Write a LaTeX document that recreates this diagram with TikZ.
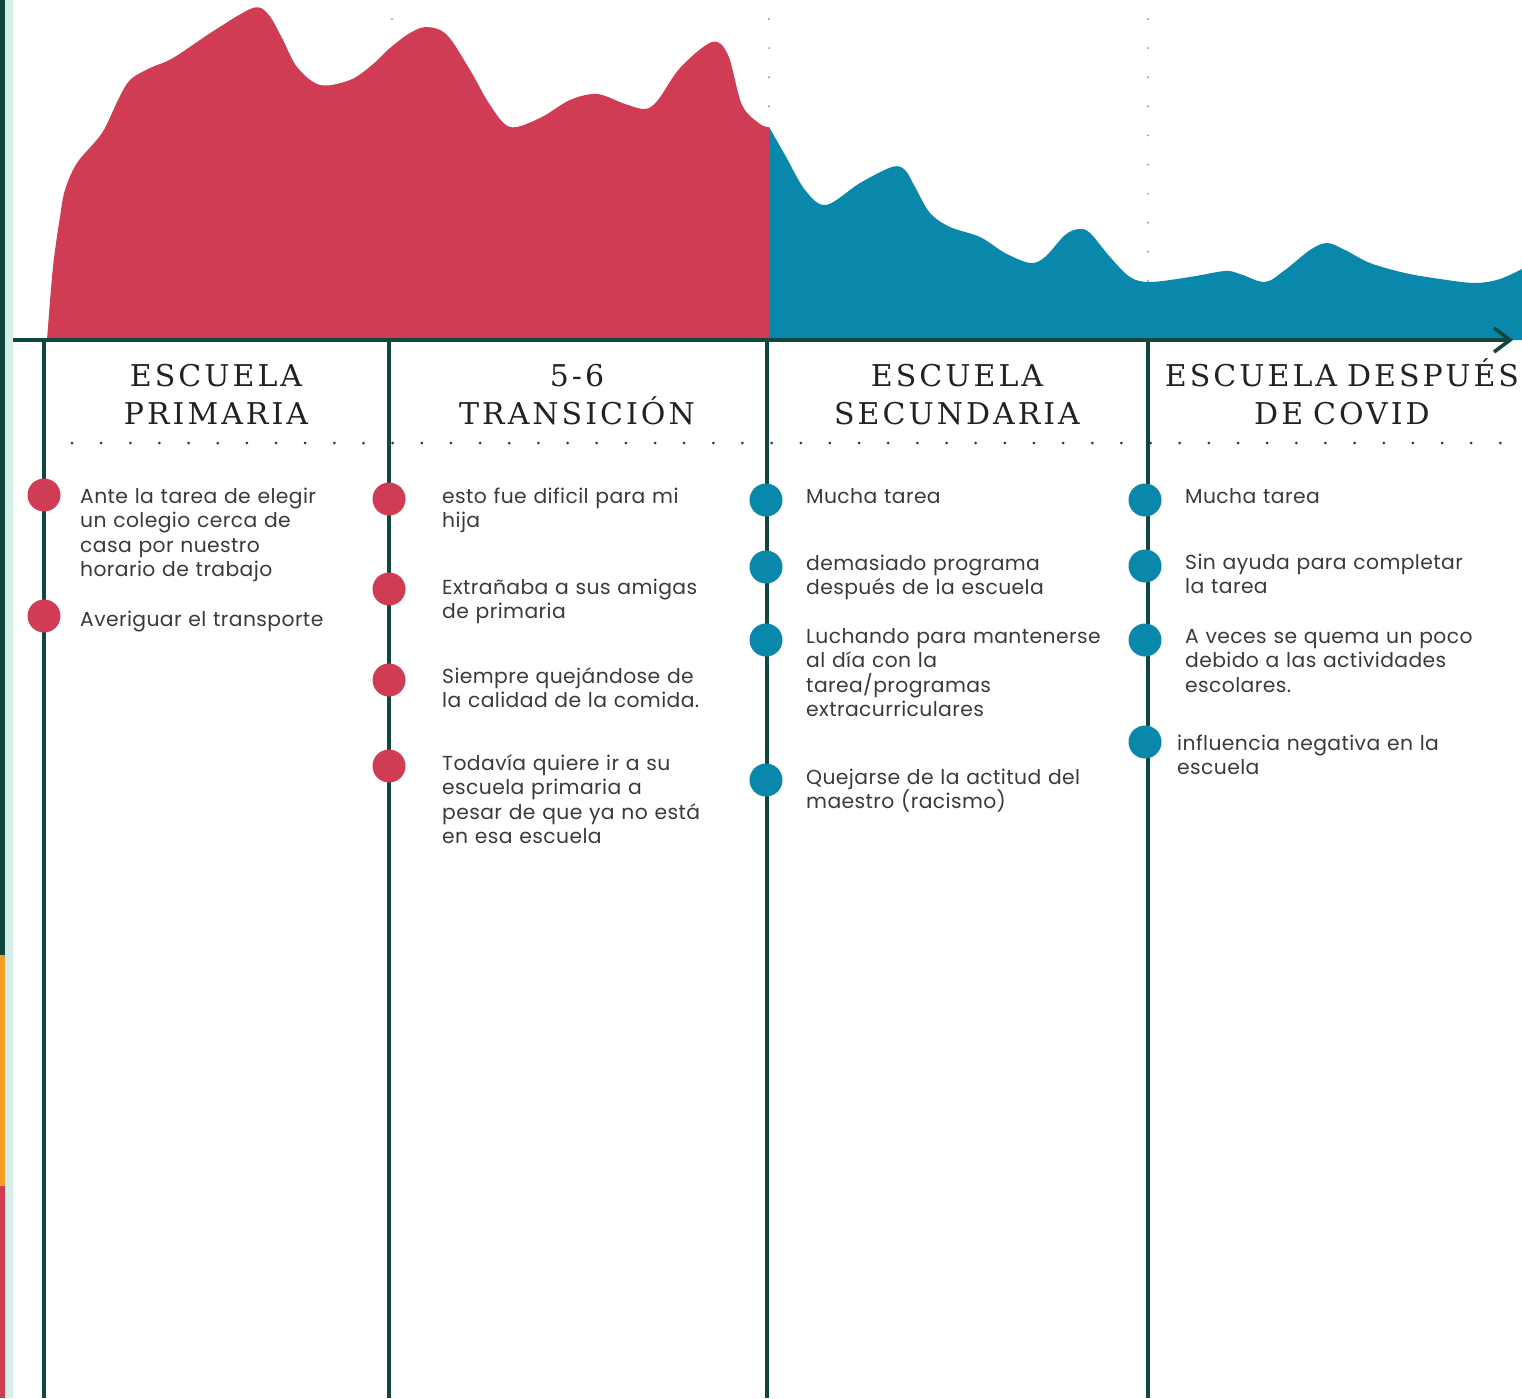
\documentclass[tikz,border=0pt]{standalone}
\usepackage{fontspec}
\setmainfont{Poppins}[LetterSpace=2]
\newfontfamily\headfont[LetterSpace=10]{DejaVu Serif}
\definecolor{accred}{HTML}{D13C55}
\definecolor{accblue}{HTML}{0A88AB}
\definecolor{linecol}{HTML}{10473F}
\definecolor{mint}{HTML}{D6EEE9}
\definecolor{stripor}{HTML}{F59E27}
\definecolor{txtgrey}{HTML}{3A3A3A}
\definecolor{headcol}{HTML}{222222}
\definecolor{gdotcol}{HTML}{9A9A9A}
\tikzset{
  axisline/.style={draw=linecol, line width=3.6pt},
  evtred/.style={circle, fill=accred, minimum size=33pt, inner sep=0pt},
  evtblue/.style={circle, fill=accblue, minimum size=33pt, inner sep=0pt},
  itemtext/.style={anchor=base west, inner sep=0pt, text width=380pt, align=left,
    font=\fontsize{20.3}{24.5}\selectfont, text=txtgrey},
  headtext/.style={anchor=base, inner sep=0pt, text width=400pt, align=center,
    font=\headfont\fontsize{30}{38}\selectfont, text=headcol}
}
\begin{document}
\begin{tikzpicture}[x=1pt,y=-1pt]
\useasboundingbox (0,0) rectangle (1522,1398);
% left strip
\fill[linecol] (0,0) rectangle (5,955);
\fill[stripor] (0,955) rectangle (5,1186);
\fill[accred] (0,1186) rectangle (5,1398);
\fill[mint] (5,0) rectangle (13,1398);
% grey guide dots
\foreach \x in {392,769,1148} {
  \foreach \j in {0,...,9} { \fill[gdotcol] (\x,19+29.1*\j) circle (1.1); }
}
% red area
\fill[accred] plot[smooth, tension=0.55] coordinates {
 (47,340) (53,267) (60,217) (65,190) (77,163) (102,133) (118,100) (130,80) (150,68)
 (173,58) (215,30) (253,8) (268,14) (282,38) (297,67) (320,85) (350,80) (372,65)
 (390,48) (410,33) (427,27) (447,35) (470,70) (490,105) (510,127) (540,118) (570,100)
 (597,94) (625,104) (645,109) (658,100) (680,68) (712,42) (728,55) (742,105) (760,124) (769,127)}
 -- (769,340) -- cycle;
% blue area
\fill[accblue] plot[smooth, tension=0.55] coordinates {
 (769,127) (785,155) (805,190) (826,205) (860,183) (892,167) (905,170) (915,187) (930,213)
 (950,227) (980,237) (1005,253) (1030,263) (1045,257) (1065,235) (1079,229) (1090,233)
 (1110,257) (1130,277) (1150,282) (1190,277) (1225,271) (1240,274) (1265,282) (1285,270)
 (1310,250) (1327,243) (1345,250) (1370,263) (1405,273) (1440,279) (1475,283) (1500,279) (1524,268)}
 -- (1524,340) -- (769,340) -- cycle;
% axis
\coordinate (a0) at (13,340);
\coordinate (a1) at (1510,340);
\draw[axisline] (a0) -- (a1);
\draw[axisline, line join=miter] (1494,328) -- (a1) -- (1494,352);
% vertical lines
\foreach \n/\x in {1/44,2/389,3/767,4/1148} {
  \coordinate (t\n) at (\x,340);
  \coordinate (b\n) at (\x,1398);
  \draw[axisline, line width=3.4pt] (t\n) -- (b\n);
}
% dotted separator
\foreach \i in {0,...,49} { \fill[linecol] (72+29.15*\i,443) circle (1.5); }
% headings
\node[headtext] (h1) at (216,386) {ESCUELA\\PRIMARIA};
\node[headtext] (h2) at (577,386) {5-6\\TRANSICIÓN};
\node[headtext] (h3) at (957,386) {ESCUELA\\SECUNDARIA};
\node[headtext] (h4) at (1342,386) {ESCUELA DESPUÉS\\DE COVID};
% column 1
\node[evtred] (p1) at (44,495) {};
\node[evtred] (p2) at (44,616) {};
\node[itemtext] (q1) at (80,503) {Ante la tarea de elegir\\un colegio cerca de\\casa por nuestro\\horario de trabajo};
\node[itemtext] (q2) at (80,626) {Averiguar el transporte};
% column 2
\node[evtred] (r1) at (389,499) {};
\node[evtred] (r2) at (389,589) {};
\node[evtred] (r3) at (389,680) {};
\node[evtred] (r4) at (389,766) {};
\node[itemtext] (s1) at (442,503) {esto fue dificil para mi\\hija};
\node[itemtext] (s2) at (442,594) {Extrañaba a sus amigas\\de primaria};
\node[itemtext] (s3) at (442,683) {Siempre quejándose de\\la calidad de la comida.};
\node[itemtext] (s4) at (442,770) {Todavía quiere ir a su\\escuela primaria a\\pesar de que ya no está\\en esa escuela};
% column 3
\node[evtblue] (u1) at (766,500) {};
\node[evtblue] (u2) at (766,567) {};
\node[evtblue] (u3) at (766,640) {};
\node[evtblue] (u4) at (766,780) {};
\node[itemtext] (w1) at (806,503) {Mucha tarea};
\node[itemtext] (w2) at (806,570) {demasiado programa\\después de la escuela};
\node[itemtext] (w3) at (806,643) {Luchando para mantenerse\\al día con la\\tarea/programas\\extracurriculares};
\node[itemtext] (w4) at (806,784) {Quejarse de la actitud del\\maestro (racismo)};
% column 4
\node[evtblue] (y1) at (1145,500) {};
\node[evtblue] (y2) at (1145,566) {};
\node[evtblue] (y3) at (1145,640) {};
\node[evtblue] (y4) at (1145,742) {};
\node[itemtext] (z1) at (1185,503) {Mucha tarea};
\node[itemtext] (z2) at (1185,569) {Sin ayuda para completar\\la tarea};
\node[itemtext] (z3) at (1185,643) {A veces se quema un poco\\debido a las actividades\\escolares.};
\node[itemtext] (z4) at (1177,750) {influencia negativa en la\\escuela};
\end{tikzpicture}
\end{document}
